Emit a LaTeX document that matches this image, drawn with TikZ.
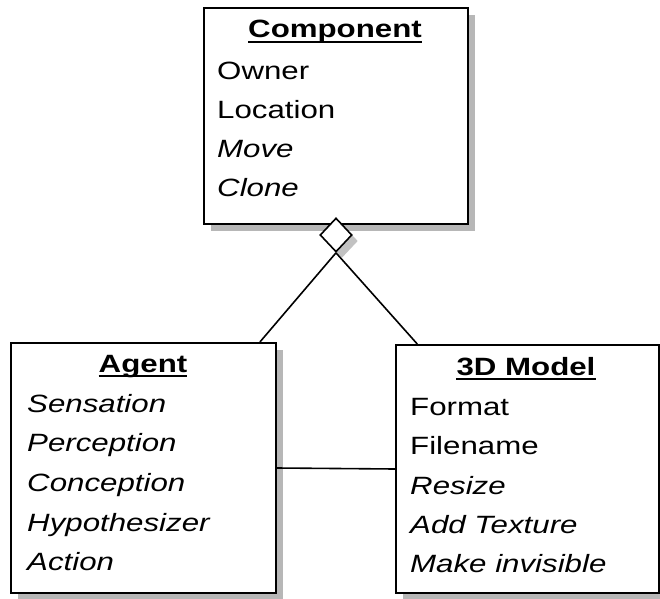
\documentclass[tikz,border=0pt]{standalone}
\usepackage{fontspec}
\setmainfont[FakeStretch=1.25]{Liberation Sans}
\usetikzlibrary{shapes.geometric,shadows,calc}
\begin{document}
\begin{tikzpicture}[x=1bp,y=-1bp,
  classbox/.style={draw=black, line width=2bp, fill=white, inner sep=0pt,
    anchor=north west,
    drop shadow={shadow xshift=7bp, shadow yshift=-7bp, fill=black!40, opacity=0.7}},
  title/.style={anchor=base, inner sep=0pt, font=\fontsize{25bp}{30bp}\selectfont\bfseries},
  attr/.style={anchor=base west, inner sep=0pt, font=\fontsize{25bp}{30bp}\selectfont},
  oper/.style={attr, font=\fontsize{25bp}{30bp}\selectfont\itshape},
  uline/.style={draw=black, line width=1.8bp},
  link/.style={draw=black, line width=1.6bp}]
\useasboundingbox (0,0) rectangle (660,599);

% class boxes
\node[classbox, minimum width=264bp, minimum height=216bp] (comp) at (203,7) {};
\node[classbox, minimum width=265bp, minimum height=250bp] (agent) at (10,342) {};
\node[classbox, minimum width=263bp, minimum height=248bp] (model) at (395,344) {};

% Component
\node[title] (compT) at (335,38) {Component};
\node[attr] (c1) at (217,80) {Owner};
\node[attr] (c2) at (217,119) {Location};
\node[oper] (c3) at (217,158) {Move};
\node[oper] (c4) at (217,197) {Clone};

% Agent
\node[title] (agentT) at (143,372) {Agent};
\node[oper] (a1) at (27,412) {Sensation};
\node[oper] (a2) at (27,451) {Perception};
\node[oper] (a3) at (27,491) {Conception};
\node[oper] (a4) at (27,531) {Hypothesizer};
\node[oper] (a5) at (27,570) {Action};

% 3D Model
\node[title] (modelT) at (526,375) {3D Model};
\node[attr] (m1) at (410,415) {Format};
\node[attr] (m2) at (410,454) {Filename};
\node[oper] (m3) at (410,494) {Resize};
\node[oper] (m4) at (410,533) {Add Texture};
\node[oper] (m5) at (410,572) {Make invisible};

% underlined class names
\foreach \t in {compT, agentT, modelT}
  \draw[uline] ([yshift=-4bp]\t.base west) -- ([yshift=-4bp]\t.base east);

% aggregation diamond
\node[diamond, draw=black, fill=white, line width=1.6bp, inner sep=0pt,
  minimum width=32bp, minimum height=34bp,
  drop shadow={shadow xshift=6bp, shadow yshift=-6bp, fill=black!40, opacity=0.6}] (agg) at (336,235) {};

% connectors
\draw[link] (agg.south) -- ($(agent.north west)!0.936!(agent.north east)$);
\draw[link] (agg.south) -- ($(model.north west)!0.084!(model.north east)$);
\draw[link] (agent.east) -- (model.west);
\end{tikzpicture}
\end{document}
